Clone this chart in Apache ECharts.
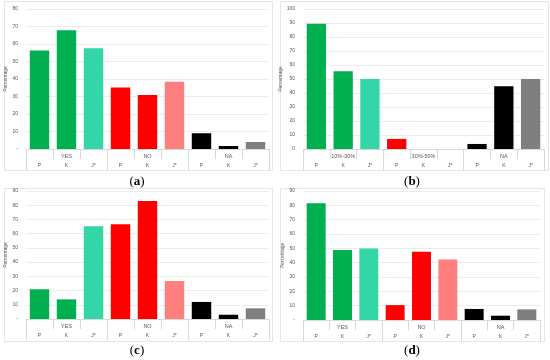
<!DOCTYPE html>
<html><head><meta charset="utf-8">
<script src="https://cdn.jsdelivr.net/npm/echarts@6/dist/echarts.min.js"></script>
<style>html,body{margin:0;padding:0;background:#fff}#c{width:550px;height:360px}</style>
</head><body><div id="c"></div>
<script>
const subCats = ['P','K','J*','P','K','J*','P','K','J*'];
const groupsYesNo = ['YES','NO','NA'];
const groupsRange = ['10%-30%','30%-50%','NA'];
const valuesA = [56.3, 67.9, 57.6, 35.1, 30.9, 38.5, 9.0, 1.7, 4.0];
const valuesB = [89.5, 55.6, 50.0, 7.2, 0, 0, 3.6, 44.9, 50.0];
const valuesC = [20.9, 13.8, 65.2, 66.6, 83.0, 26.7, 12.0, 3.0, 7.5];
const valuesD = [81.4, 48.9, 49.9, 10.4, 47.6, 42.2, 7.7, 3.0, 7.4];
const yMaxA = 80, yMaxB = 100, yMaxC = 90, yMaxD = 90;
const yInterval = 10;
const yTitle = 'Percentage';
const captionLetters = ['a', 'b', 'c', 'd'];
const barColors = ['#00B050','#00B050','#33D6A6','#FF0000','#FF0000','#FF7F7F','#000000','#000000','#7F7F7F'];

const panels = [
  {values: valuesA, groups: groupsYesNo, max: yMaxA, zero: '-', grid: {left: 26, top: 9, width: 243, height: 140}, frame: [4, 1, 268, 169], cap: [137, 182]},
  {values: valuesB, groups: groupsRange, max: yMaxB, zero: '0', grid: {left: 303, top: 9, width: 241, height: 140}, frame: [280, 1, 268, 169], cap: [412, 182]},
  {values: valuesC, groups: groupsYesNo, max: yMaxC, zero: '-', grid: {left: 26, top: 191, width: 243, height: 128}, frame: [4, 188, 268, 153], cap: [137, 351]},
  {values: valuesD, groups: groupsYesNo, max: yMaxD, zero: '-', grid: {left: 303, top: 191, width: 237, height: 129}, frame: [280, 188, 264, 153], cap: [412, 351]}
];

const font = 'Liberation Sans';
const lineCol = '#d9d9d9';
const grids = [], xAxes = [], yAxes = [], series = [], graphics = [];
panels.forEach((p, g) => {
  grids.push(Object.assign({containLabel: false}, p.grid));
  const subH = 11;
  xAxes.push({
    type: 'category', gridIndex: g, data: subCats, position: 'bottom', offset: subH,
    axisLine: {show: false},
    axisTick: {show: true, length: 10, lineStyle: {color: lineCol}},
    axisLabel: {fontSize: 5, color: '#595959', margin: 3, fontFamily: font, interval: 0}
  });
  xAxes.push({
    type: 'category', gridIndex: g, data: p.groups, position: 'bottom', offset: 0,
    axisLine: {show: true, lineStyle: {color: lineCol}},
    axisTick: {show: true, length: 21, lineStyle: {color: lineCol}},
    axisLabel: {fontSize: 5.5, color: '#595959', margin: 4, fontFamily: font, interval: 0}
  });
  yAxes.push({
    type: 'value', gridIndex: g, min: 0, max: p.max, interval: yInterval,
    name: yTitle, nameLocation: 'middle', nameGap: 16, nameRotate: 90,
    nameTextStyle: {fontSize: 5, color: '#595959', fontFamily: font},
    axisLine: {show: false}, axisTick: {show: false},
    axisLabel: {fontSize: 5, color: '#595959', margin: 8, fontFamily: font,
      formatter: v => v === 0 ? p.zero : String(v)},
    splitLine: {lineStyle: {color: '#ececec', width: 1}}
  });
  series.push({
    type: 'bar', xAxisIndex: 2 * g, yAxisIndex: g, barWidth: '72%',
    data: p.values.map((v, i) => ({value: v, itemStyle: {color: barColors[i]}})),
    silent: true
  });
  graphics.push({type: 'rect', shape: {x: p.frame[0] + 0.5, y: p.frame[1] + 0.5, width: p.frame[2], height: p.frame[3]},
    style: {fill: 'none', stroke: '#e6e6e6', lineWidth: 1}, z: -1});
  graphics.push({type: 'text', x: p.cap[0], y: p.cap[1],
    style: {text: '({b|' + captionLetters[g] + '})', rich: {b: {fontWeight: 'bold', fontSize: 13, fontFamily: 'Liberation Serif'}},
      fontSize: 13, fontFamily: 'Liberation Serif', fill: '#000', align: 'center', verticalAlign: 'middle'}});
});

const chart = echarts.init(document.getElementById('c'), null, {renderer: 'canvas'});
chart.setOption({
  animation: false,
  backgroundColor: '#fff',
  grid: grids, xAxis: xAxes, yAxis: yAxes, series: series, graphic: graphics
});
</script>
</body></html>
